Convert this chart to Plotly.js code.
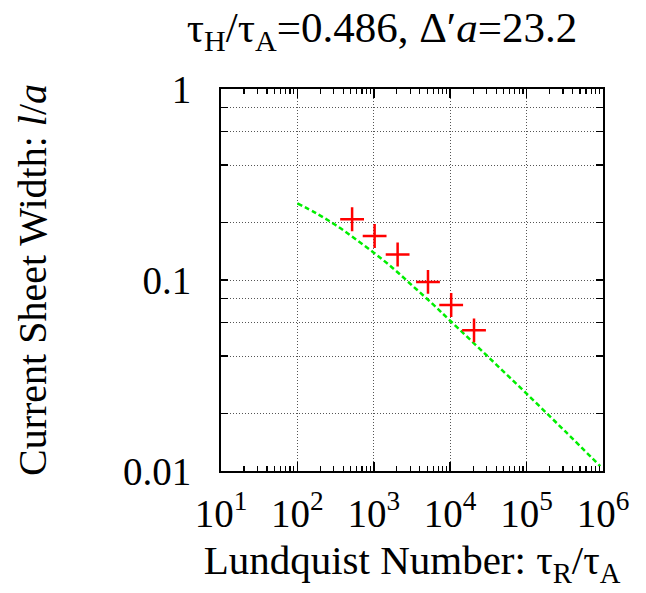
<!DOCTYPE html>
<html>
<head>
<meta charset="utf-8">
<script src="https://cdn.plot.ly/plotly-3.0.1.min.js"></script>
<style>body{margin:0;background:#fff;} #plot{width:646px;height:593px;}</style>
</head>
<body>
<div id="plot"></div>
<script>
// Simulation points (red crosses)
const S_sim = [520, 1025, 2050, 5120, 10300, 20500];
const w_sim = [0.208, 0.170, 0.136, 0.0977, 0.074, 0.0545];

// Theory curve (green dashed)
const S_theory = [100, 178, 316, 562, 1000, 1780, 3160, 5620, 10000, 31600, 100000, 316000, 920000];
const w_theory = [0.252, 0.223, 0.194, 0.165, 0.139, 0.1153, 0.0938, 0.0762, 0.0612, 0.0395, 0.0254, 0.0162, 0.0106];

// Axis ticks
const xTickVals = [10, 100, 1000, 10000, 100000, 1000000];
const xTickText = ['10<sup>1</sup>', '10<sup>2</sup>', '10<sup>3</sup>', '10<sup>4</sup>', '10<sup>5</sup>', '10<sup>6</sup>'];
const xMinorVals = [];
[10, 100, 1000, 10000, 100000].forEach(d => { for (let k = 2; k <= 9; k++) xMinorVals.push(d * k); });
const yTickVals = [0.01, 0.1, 1];
const yTickText = ['0.01', '0.1', '1'];
const yMinorVals = [0.02, 0.04, 0.06, 0.08, 0.2, 0.4, 0.6, 0.8];

const FONT = 'Liberation Serif';

const traces = [
  {
    x: S_theory, y: w_theory, type: 'scatter', mode: 'lines',
    line: {color: '#00ee00', width: 2.5, dash: '5px,3px', shape: 'spline'},
    hoverinfo: 'skip', showlegend: false
  },
  {
    x: S_sim, y: w_sim, type: 'scatter', mode: 'markers',
    marker: {symbol: 'cross-thin-open', size: 17, color: '#ff0000', line: {color: '#ff0000', width: 2.5}},
    showlegend: false
  }
];

const gridStyle = {gridcolor: '#555', gridwidth: 1, griddash: '1px,2px'};

const layout = {
  width: 646, height: 593,
  margin: {l: 221, r: 43, t: 89, b: 122},
  paper_bgcolor: '#ffffff', plot_bgcolor: '#ffffff',
  font: {family: FONT, color: '#000', size: 39},
  showlegend: false,
  title: {
    text: 'τ<sub>H</sub>/τ<sub>A</sub>=0.486, Δ′<i>a</i>=23.2',
    font: {family: FONT, size: 43, color: '#000'},
    xref: 'container', x: 382 / 646, xanchor: 'center',
    yref: 'container', y: 1 - 27 / 593, yanchor: 'middle'
  },
  xaxis: Object.assign({
    type: 'log', range: [1, 6],
    tickmode: 'array', tickvals: xTickVals, ticktext: xTickText,
    ticks: 'inside', ticklen: 9, tickwidth: 1.5, tickcolor: '#000',
    mirror: 'allticks', showline: true, linecolor: '#000', linewidth: 2,
    showgrid: true,
    zeroline: false,
    minor: {tickmode: 'array', tickvals: xMinorVals, ticks: 'inside', ticklen: 5, tickwidth: 1.2, tickcolor: '#000', showgrid: false},
    tickfont: {family: FONT, size: 39, color: '#000'},
    ticklabelstandoff: 7,
    title: {text: 'Lundquist Number: τ<sub>R</sub>/τ<sub>A</sub>', font: {family: FONT, size: 41, color: '#000'}, standoff: 12}
  }, gridStyle),
  yaxis: Object.assign({
    type: 'log', range: [-2, 0],
    tickmode: 'array', tickvals: yTickVals, ticktext: yTickText,
    ticks: 'inside', ticklen: 7, tickwidth: 1.2, tickcolor: '#000',
    mirror: 'allticks', showline: true, linecolor: '#000', linewidth: 2,
    showgrid: true,
    zeroline: false,
    minor: Object.assign({tickmode: 'array', tickvals: yMinorVals, ticks: 'inside', ticklen: 7, tickwidth: 1.2, tickcolor: '#000', showgrid: true}, gridStyle),
    tickfont: {family: FONT, size: 39, color: '#000'},
    ticklabelstandoff: 20,
    title: {text: 'Current Sheet Width: <i>l</i>/<i>a</i>', font: {family: FONT, size: 40, color: '#000'}, standoff: 64}
  }, gridStyle)
};

Plotly.newPlot('plot', traces, layout, {displayModeBar: false, staticPlot: true});
</script>
</body>
</html>
